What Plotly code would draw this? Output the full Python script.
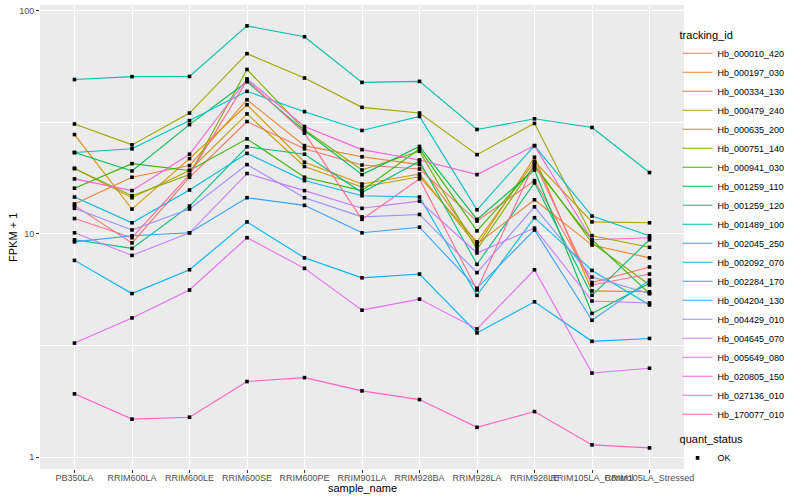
import plotly.graph_objects as go

samples = ["PB350LA", "RRIM600LA", "RRIM600LE", "RRIM600SE", "RRIM600PE", "RRIM901LA",
           "RRIM928BA", "RRIM928LA", "RRIM928LE", "RRIM105LA_Control", "RRIM105LA_Stressed"]

tracking_ids = ["Hb_000010_420", "Hb_000197_030", "Hb_000334_130", "Hb_000479_240", "Hb_000635_200",
                "Hb_000751_140", "Hb_000941_030", "Hb_001259_110", "Hb_001259_120", "Hb_001489_100",
                "Hb_002045_250", "Hb_002092_070", "Hb_002284_170", "Hb_004204_130", "Hb_004429_010",
                "Hb_004645_070", "Hb_005649_080", "Hb_020805_150", "Hb_027136_010", "Hb_170077_010"]

colors = ["#F8766D", "#EA8331", "#D89000", "#C09B00", "#A3A500", "#7CAE00", "#39B600", "#00BB4E",
          "#00BF7D", "#00C1A3", "#00BFC4", "#00BAE0", "#00B0F6", "#35A2FF", "#9590FF", "#C77CFF",
          "#E76BF3", "#FA62DB", "#FF62BC", "#FF6C91"]

# FPKM + 1 values per tracking_id, one per sample
Hb_000010_420 = [13.4, 9.1, 17.9, 31.8, 24.0, 20.3, 19.5, 11.4, 17.3, 6.05, 7.1]
Hb_000197_030 = [13.6, 17.9, 20.2, 39.8, 24.8, 22.1, 20.4, 9.0, 14.2, 8.9, 7.8]
Hb_000334_130 = [27.8, 12.9, 21.7, 37.8, 20.9, 16.7, 18.5, 8.8, 22.0, 5.55, 5.5]
Hb_000479_240 = [19.6, 14.5, 19.2, 34.4, 20.0, 16.2, 18.0, 9.2, 21.1, 11.3, 11.2]
Hb_000635_200 = [31.0, 25.0, 34.7, 64.0, 49.8, 36.8, 34.7, 22.6, 31.2, 9.8, 8.7]
Hb_000751_140 = [19.6, 14.8, 18.4, 54.4, 29.2, 19.3, 23.4, 8.5, 20.4, 9.1, 5.9]
Hb_000941_030 = [16.0, 20.6, 19.2, 26.6, 17.9, 15.6, 24.0, 10.3, 19.9, 9.4, 5.4]
Hb_001259_110 = [23.1, 19.1, 30.8, 47.9, 28.9, 18.4, 24.6, 11.6, 19.3, 4.4, 6.0]
Hb_001259_120 = [9.4, 8.6, 13.3, 24.5, 22.7, 15.3, 21.1, 7.3, 16.9, 5.3, 9.4]
Hb_001489_100 = [49.0, 50.5, 50.6, 85.2, 76.2, 47.6, 48.1, 29.3, 32.7, 29.9, 18.8]
Hb_002045_250 = [23.1, 24.0, 32.1, 43.4, 35.2, 29.0, 33.5, 12.8, 24.8, 12.0, 9.8]
Hb_002092_070 = [14.6, 11.2, 15.7, 22.9, 17.3, 14.8, 14.6, 5.3, 11.8, 6.85, 4.8]
Hb_002284_170 = [7.6, 5.4, 6.9, 11.3, 7.8, 6.35, 6.6, 3.6, 4.96, 3.3, 3.4]
Hb_004204_130 = [9.2, 9.8, 10.1, 14.5, 13.4, 10.1, 10.7, 5.7, 10.4, 4.1, 6.2]
Hb_004429_010 = [13.0, 10.4, 12.9, 20.4, 14.5, 11.9, 12.2, 6.7, 13.2, 6.4, 5.4]
Hb_004645_070 = [10.1, 8.0, 10.1, 18.6, 15.6, 13.0, 14.0, 8.2, 10.6, 5.0, 4.9]
Hb_005649_080 = [3.24, 4.2, 5.6, 9.6, 7.0, 4.55, 5.1, 3.75, 6.9, 2.38, 2.5]
Hb_020805_150 = [17.6, 15.6, 22.7, 49.3, 30.2, 23.8, 21.4, 18.4, 24.8, 9.4, 9.6]
Hb_027136_010 = [1.92, 1.48, 1.51, 2.18, 2.27, 1.98, 1.81, 1.36, 1.6, 1.135, 1.10]
Hb_170077_010 = [11.7, 9.6, 18.4, 48.6, 28.2, 11.6, 17.6, 5.6, 20.8, 5.9, 6.6]

series = [Hb_000010_420, Hb_000197_030, Hb_000334_130, Hb_000479_240, Hb_000635_200,
          Hb_000751_140, Hb_000941_030, Hb_001259_110, Hb_001259_120, Hb_001489_100,
          Hb_002045_250, Hb_002092_070, Hb_002284_170, Hb_004204_130, Hb_004429_010,
          Hb_004645_070, Hb_005649_080, Hb_020805_150, Hb_027136_010, Hb_170077_010]

y_ticks = [1, 10, 100]
y_minor = [3.1623, 31.623]

FONT = "Liberation Sans, Arial, sans-serif"

fig = go.Figure()
for name, col, vals in zip(tracking_ids, colors, series):
    fig.add_trace(go.Scatter(
        x=samples, y=vals, mode="lines", name=name,
        line=dict(color=col, width=1.1), legend="legend", hoverinfo="skip"))

all_x, all_y = [], []
for vals in series:
    all_x += samples
    all_y += vals
fig.add_trace(go.Scatter(
    x=all_x, y=all_y, mode="markers", name="OK", legend="legend2",
    marker=dict(color="black", size=3.6, symbol="square")))

fig.update_layout(
    width=800, height=500,
    margin=dict(l=40, r=116, t=5, b=31, autoexpand=False),
    paper_bgcolor="white", plot_bgcolor="#EBEBEB",
    font=dict(family=FONT, color="#000000"),
    showlegend=True,
    legend=dict(title=dict(text="tracking_id", font=dict(size=11)), font=dict(size=9),
                x=0.99, y=0.958, xanchor="left", yanchor="top",
                bgcolor="rgba(0,0,0,0)", itemwidth=30, tracegroupgap=0),
    legend2=dict(title=dict(text="quant_status", font=dict(size=11)), font=dict(size=9),
                 x=0.99, y=0.086, xanchor="left", yanchor="top", bgcolor="rgba(0,0,0,0)"),
    xaxis=dict(type="category", categoryorder="array", categoryarray=samples,
               range=[-0.6, 10.6], tickmode="array", tickvals=samples, ticktext=samples,
               tickangle=0, showgrid=True, gridcolor="white", gridwidth=1.1,
               ticks="outside", ticklen=3, tickcolor="#333333", tickwidth=1,
               ticklabelstandoff=-3,
               tickfont=dict(size=9, color="#4D4D4D", family=FONT),
               automargin=False, zeroline=False, showline=False),
    yaxis=dict(type="log", range=[-0.053, 2.024], tickmode="array", tickvals=y_ticks,
               ticktext=[str(v) for v in y_ticks],
               showgrid=True, gridcolor="white", gridwidth=1.1,
               minor=dict(tickmode="array", tickvals=y_minor, showgrid=True, gridcolor="white",
                          gridwidth=0.5, ticks=""),
               ticks="outside", ticklen=3, tickcolor="#333333", tickwidth=1,
               tickfont=dict(size=9, color="#4D4D4D", family=FONT),
               automargin=False, zeroline=False, showline=False),
    annotations=[
        dict(text="sample_name", xref="paper", yref="paper", x=0.5, y=-0.041,
             xanchor="center", yanchor="middle", showarrow=False,
             font=dict(size=11, color="black", family=FONT)),
        dict(text="FPKM + 1", xref="paper", yref="paper", x=-0.042, y=0.5,
             xanchor="center", yanchor="middle", textangle=-90, showarrow=False,
             font=dict(size=11, color="black", family=FONT)),
    ],
)

fig.write_html("out.html", config={"displayModeBar": False},
               post_script="document.body.style.margin='0px';")
